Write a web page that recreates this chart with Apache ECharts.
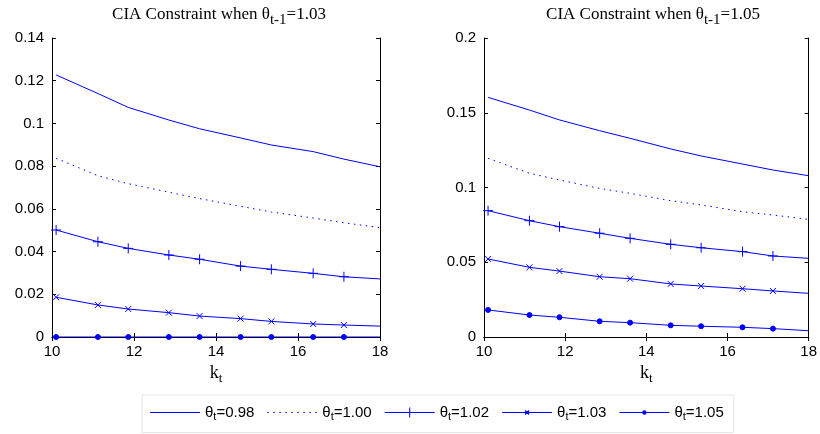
<!DOCTYPE html>
<html>
<head>
<meta charset="utf-8">
<script src="https://cdn.jsdelivr.net/npm/echarts@6/dist/echarts.min.js"></script>
<style>
  html, body { margin: 0; padding: 0; background: #fff; }
  #chart { width: 820px; height: 434px; }
</style>
</head>
<body>
<div id="chart"></div>
<script>
// Capital grid k_t at which the constraint is evaluated
const kGrid = [10.1, 11.12, 11.86, 12.85, 13.6, 14.6, 15.35, 16.37, 17.12, 18];

// theta_t values (legend entries)
const thetaNames = ['0.98', '1.00', '1.02', '1.03', '1.05'];

// Panel 1: theta_{t-1} = 1.03
const left098 = [0.1227, 0.1140, 0.1075, 0.1016, 0.0975, 0.0932, 0.0899, 0.0868, 0.0833, 0.0797];
const left100 = [0.0837, 0.0755, 0.0718, 0.0678, 0.0648, 0.0612, 0.0585, 0.0557, 0.0535, 0.0512];
const left102 = [0.0501, 0.0446, 0.0415, 0.0384, 0.0364, 0.0332, 0.0317, 0.0298, 0.0282, 0.0272];
const left103 = [0.0186, 0.0150, 0.0131, 0.0114, 0.0098, 0.0086, 0.0073, 0.0061, 0.0056, 0.0051];
const left105 = [0, 0, 0, 0, 0, 0, 0, 0, 0, 0];

// Panel 2: theta_{t-1} = 1.05
const right098 = [0.1603, 0.1518, 0.1452, 0.1380, 0.1329, 0.1258, 0.1211, 0.1157, 0.1117, 0.1079];
const right100 = [0.1195, 0.1095, 0.1050, 0.0994, 0.0961, 0.0912, 0.0883, 0.0838, 0.0816, 0.0787];
const right102 = [0.0845, 0.0778, 0.0738, 0.0694, 0.0660, 0.0620, 0.0597, 0.0571, 0.0542, 0.0526];
const right103 = [0.0522, 0.0466, 0.0441, 0.0403, 0.0390, 0.0355, 0.0341, 0.0323, 0.0308, 0.0292];
const right105 = [0.0181, 0.0147, 0.0132, 0.0105, 0.0096, 0.0078, 0.0072, 0.0065, 0.0056, 0.0042];

// Axis ranges and tick steps
const xMin = 10, xMax = 18, xStep = 2;
const leftYMax = 0.14, leftYStep = 0.02;
const rightYMax = 0.2, rightYStep = 0.05;

const titles = ['1.03', '1.05'];

const BLUE = '#0000ff';
const SANS = 'Liberation Sans, Arial, sans-serif';
const SERIF = 'Liberation Serif, Times New Roman, serif';

const PLUS = 'path://M0,-1L0,1M-1,0L1,0';
const CROSS = 'path://M-1,-1L1,1M-1,1L1,-1';

const styles = {
  '0.98': { line: 'solid', symbol: 'none', size: 0 },
  '1.00': { line: [1.5, 4.5], symbol: 'none', size: 0 },
  '1.02': { line: 'solid', symbol: PLUS, size: 10 },
  '1.03': { line: 'solid', symbol: CROSS, size: 6 },
  '1.05': { line: 'solid', symbol: 'circle', size: 5 }
};

// ---- legend swatches: 50 x 12 box, built from thin filled shapes ----
const LW = 50, LH = 12;
function rect(x, y, w, h) {
  return 'M' + x + ',' + y + 'L' + (x + w) + ',' + y + 'L' + (x + w) + ',' + (y + h) + 'L' + x + ',' + (y + h) + 'Z';
}
// anchor points fix the bounding box so the swatch is not stretched
const frame = 'M0,0M' + LW + ',' + LH;
const midY = LH / 2 - 0.5;
const solidBar = rect(0, midY, LW, 1);
function dottedBar() {
  let p = '';
  for (let x = 0; x + 1.5 <= LW; x += 6) p += rect(x, midY, 1.5, 1);
  return p;
}
function crossMark(cx, cy, r) {
  const t = 0.5;
  return 'M' + (cx - r - t) + ',' + (cy - r + t) + 'L' + (cx - r + t) + ',' + (cy - r - t) +
    'L' + (cx + r + t) + ',' + (cy + r - t) + 'L' + (cx + r - t) + ',' + (cy + r + t) + 'Z' +
    'M' + (cx + r - t) + ',' + (cy - r - t) + 'L' + (cx + r + t) + ',' + (cy - r + t) +
    'L' + (cx - r + t) + ',' + (cy + r + t) + 'L' + (cx - r - t) + ',' + (cy + r - t) + 'Z';
}
function dotMark(cx, cy, r) {
  return 'M' + (cx + r) + ',' + cy + 'A' + r + ',' + r + ' 0 1 1 ' + (cx - r) + ',' + cy +
    'A' + r + ',' + r + ' 0 1 1 ' + (cx + r) + ',' + cy + 'Z';
}
const legendIcons = {
  '0.98': 'path://' + frame + solidBar,
  '1.00': 'path://' + frame + dottedBar(),
  '1.02': 'path://' + frame + solidBar + rect(LW / 2 - 0.5, 1, 1, LH - 2),
  '1.03': 'path://' + frame + solidBar + crossMark(LW / 2, LH / 2, 2),
  '1.05': 'path://' + frame + solidBar + dotMark(LW / 2, LH / 2, 2.2)
};

function pairs(values) {
  return kGrid.map((k, i) => {
    const item = { value: [k, values[i]] };
    if (i === kGrid.length - 1) item.symbol = 'none';
    return item;
  });
}

function makeSeries(name, values, axisIdx) {
  const s = styles[name];
  return {
    name: name,
    type: 'line',
    xAxisIndex: axisIdx,
    yAxisIndex: axisIdx,
    data: pairs(values),
    symbol: s.symbol,
    symbolSize: s.size,
    showSymbol: s.symbol !== 'none',
    animation: false,
    lineStyle: { color: BLUE, width: 1, type: s.line },
    itemStyle: { color: BLUE, borderColor: BLUE, borderWidth: 1 },
    emphasis: { disabled: true },
    z: 3
  };
}

const grids = [
  { left: 52, right: 440, top: 38, bottom: 97 },
  { left: 484, right: 7, top: 38, bottom: 97 }
];

const tickLabel = { color: '#000', fontFamily: SANS, fontSize: 15 };
const axisLineStyle = { show: true, lineStyle: { color: '#000', width: 1 } };
const tickStyle = { show: true, inside: true, length: 4, lineStyle: { color: '#000' } };

const xAxes = [];
const yAxes = [];
[0, 1].forEach(g => {
  const yMax = g === 0 ? leftYMax : rightYMax;
  const yStep = g === 0 ? leftYStep : rightYStep;
  xAxes.push({
    type: 'value', gridIndex: g, min: xMin, max: xMax, interval: xStep, position: 'bottom',
    axisLine: axisLineStyle, axisTick: tickStyle, splitLine: { show: false },
    axisLabel: Object.assign({ margin: 7 }, tickLabel),
    name: '{k|k}{sub|t}', nameLocation: 'middle', nameGap: 24,
    nameTextStyle: {
      rich: {
        k: { fontFamily: SERIF, fontSize: 18, color: '#000' },
        sub: { fontFamily: SERIF, fontSize: 13, color: '#000', padding: [11, 0, 0, 0] }
      }
    }
  });
  yAxes.push({
    type: 'value', gridIndex: g, min: 0, max: yMax, interval: yStep, position: 'left',
    axisLine: axisLineStyle, axisTick: tickStyle, splitLine: { show: false },
    axisLabel: Object.assign({ margin: 8 }, tickLabel)
  });
});
// mirrored top/right axes for the boxed frame with inward ticks
[0, 1].forEach(g => {
  const yMax = g === 0 ? leftYMax : rightYMax;
  const yStep = g === 0 ? leftYStep : rightYStep;
  xAxes.push({
    type: 'value', gridIndex: g, min: xMin, max: xMax, interval: xStep, position: 'top',
    axisLine: axisLineStyle, axisTick: tickStyle, splitLine: { show: false }, axisLabel: { show: false }
  });
  yAxes.push({
    type: 'value', gridIndex: g, min: 0, max: yMax, interval: yStep, position: 'right',
    axisLine: axisLineStyle, axisTick: tickStyle, splitLine: { show: false }, axisLabel: { show: false }
  });
});

const titleRich = {
  base: { fontFamily: SERIF, fontSize: 17, fontWeight: 'normal', color: '#000' },
  sub: { fontFamily: SERIF, fontSize: 15, fontWeight: 'normal', color: '#000', padding: [12, 0, 0, 0] }
};

const option = {
  backgroundColor: '#fff',
  animation: false,
  title: titles.map((t, i) => ({
    text: '{base|CIA Constraint when θ}{sub|t-1}{base|=' + t + '}',
    left: i === 0 ? 214 : 648,
    textAlign: 'center',
    top: -4,
    textStyle: { fontWeight: 'normal', rich: titleRich }
  })),
  grid: grids,
  xAxis: xAxes,
  yAxis: yAxes,
  legend: {
    data: thetaNames.map(n => ({ name: n, icon: legendIcons[n] })),
    left: 142,
    top: 395,
    orient: 'horizontal',
    itemWidth: LW,
    itemHeight: LH,
    itemGap: 13,
    padding: [10, 10, 10, 8],
    borderColor: '#e6e6e6',
    borderWidth: 1,
    selectedMode: false,
    itemStyle: { color: BLUE, borderWidth: 0 },
    formatter: name => '{th|θ}{sub|t}{v|=' + name + '}',
    textStyle: {
      color: '#000',
      rich: {
        th: { fontFamily: SANS, fontSize: 15, color: '#000' },
        sub: { fontFamily: SANS, fontSize: 11, color: '#000', padding: [9, 0, 0, 0] },
        v: { fontFamily: SANS, fontSize: 15, color: '#000' }
      }
    }
  },
  series: [
    makeSeries('0.98', left098, 0),
    makeSeries('1.00', left100, 0),
    makeSeries('1.02', left102, 0),
    makeSeries('1.03', left103, 0),
    makeSeries('1.05', left105, 0),
    makeSeries('0.98', right098, 1),
    makeSeries('1.00', right100, 1),
    makeSeries('1.02', right102, 1),
    makeSeries('1.03', right103, 1),
    makeSeries('1.05', right105, 1)
  ]
};

const chart = echarts.init(document.getElementById('chart'), null, { renderer: 'canvas' });
chart.setOption(option);
</script>
</body>
</html>
